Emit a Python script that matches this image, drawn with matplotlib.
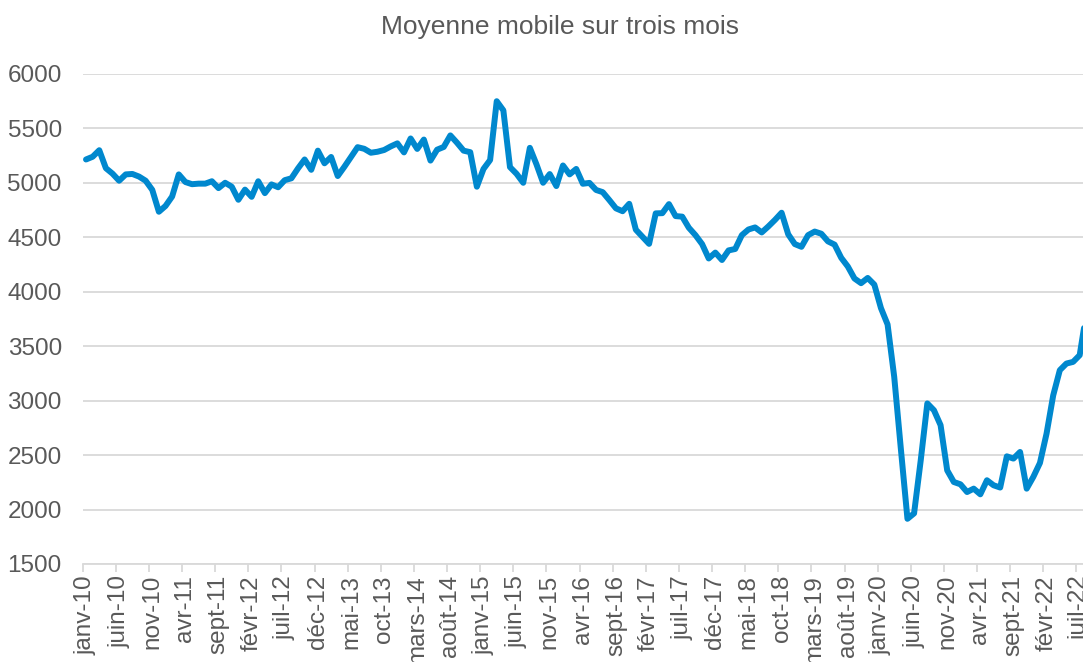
import matplotlib.pyplot as plt
from matplotlib.ticker import FixedLocator

# Moyenne mobile sur trois mois, janv-10 .. août-22
valeurs = [
    5215, 5240, 5300, 5135, 5085, 5020, 5078, 5082, 5058, 5020,
    4936, 4735, 4788, 4875, 5078, 5008, 4988, 4993, 4993, 5015,
    4952, 5001, 4965, 4845, 4938, 4872, 5015, 4906, 4986, 4960,
    5025, 5042, 5133, 5215, 5120, 5296, 5180, 5238, 5063, 5148,
    5238, 5328, 5313, 5277, 5286, 5302, 5335, 5363, 5280, 5408,
    5312, 5398, 5205, 5305, 5330, 5436, 5369, 5296, 5282, 4965,
    5128, 5210, 5750, 5666, 5145, 5083, 5001, 5322, 5170, 5001,
    5081, 4971, 5160, 5078, 5128, 4992, 5000, 4935, 4915, 4842,
    4766, 4740, 4808, 4570, 4505, 4440, 4720, 4722, 4805, 4695,
    4690, 4588, 4520, 4438, 4306, 4360, 4292, 4380, 4393, 4520,
    4572, 4591, 4545, 4600, 4660, 4726, 4528, 4438, 4413, 4520,
    4553, 4533, 4463, 4433, 4312, 4232, 4122, 4079, 4127, 4066,
    3850, 3700, 3220, 2560, 1915, 1965, 2450, 2975, 2912, 2775,
    2360, 2253, 2232, 2161, 2192, 2140, 2269, 2223, 2202, 2489,
    2468, 2529, 2192, 2300, 2428, 2698, 3048, 3280, 3341, 3356,
    3418, 3800,
]

# une étiquette tous les 5 mois
etiquettes = [
    "janv-10", "juin-10", "nov-10", "avr-11", "sept-11", "févr-12", "juil-12",
    "déc-12", "mai-13", "oct-13", "mars-14", "août-14", "janv-15", "juin-15",
    "nov-15", "avr-16", "sept-16", "févr-17", "juil-17", "déc-17", "mai-18",
    "oct-18", "mars-19", "août-19", "janv-20", "juin-20", "nov-20", "avr-21",
    "sept-21", "févr-22", "juil-22",
]

gris = "#595959"
plt.rcParams['font.family'] = ['Liberation Sans', 'DejaVu Sans']

fig = plt.figure(figsize=(10.83, 6.62), dpi=100)
ax = fig.add_axes([82.7 / 1083, 1 - 564 / 662, 1 - 82.7 / 1083, (564 - 74) / 662])

x = list(range(len(valeurs)))
ax.plot(x, valeurs, color="#0088CE", linewidth=4.3, solid_joinstyle="round",
        solid_capstyle="round", zorder=3)

ax.set_ylim(1500, 6000)
ax.set_yticks(range(1500, 6001, 500))
ax.set_xlim(-0.5, 150.5)

pos = [i * 5 for i in range(len(etiquettes))]
ax.set_xticks(pos)
ax.set_xticklabels(etiquettes, rotation=90)
ax.xaxis.set_minor_locator(FixedLocator([p - 0.5 for p in pos]))

ax.grid(axis="y", color="#D9D9D9", linewidth=1.3)
ax.set_axisbelow(True)
for s in ["top", "right", "left"]:
    ax.spines[s].set_visible(False)
ax.spines["bottom"].set_color("#D9D9D9")
ax.spines["bottom"].set_linewidth(1.3)

ax.tick_params(axis="y", length=0, pad=15, labelsize=17.5, labelcolor=gris)
ax.tick_params(axis="x", which="major", length=0, pad=8, labelsize=17.5, labelcolor=gris)
ax.tick_params(axis="x", which="minor", length=6, width=1.3, color="#D9D9D9")

fig.text(560 / 1083, 1 - 27 / 662, "Moyenne mobile sur trois mois", ha="center",
         va="center", fontsize=19, color=gris)

fig.savefig("out.png", dpi=100)
